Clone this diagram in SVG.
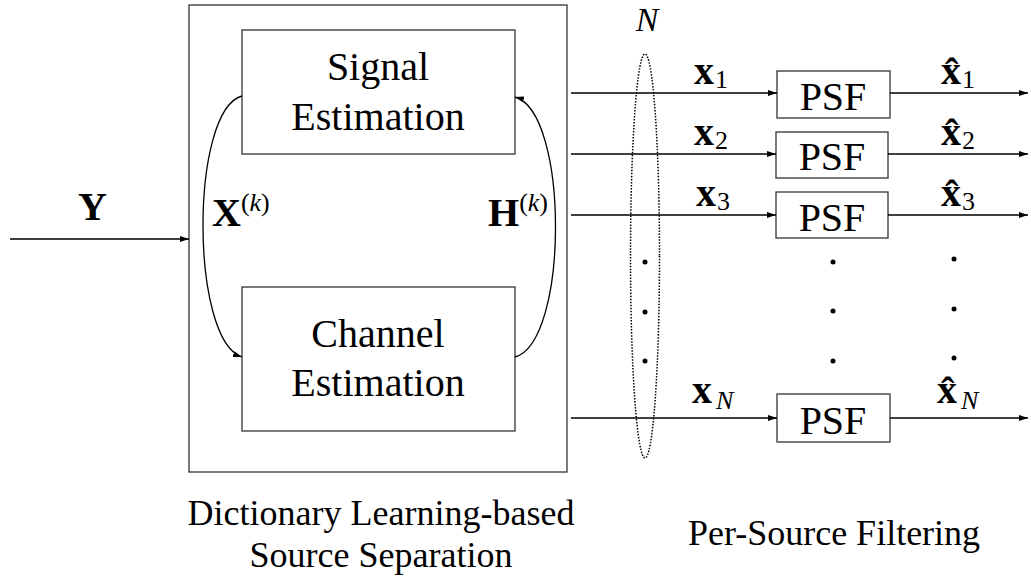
<svg xmlns="http://www.w3.org/2000/svg" width="1031" height="581" viewBox="0 0 1031 581">
<style>
.box{fill:#fff;stroke:#333;stroke-width:1.3}
.ln{fill:none;stroke:#000;stroke-width:1.3}
text{font-family:'Liberation Serif','DejaVu Serif',serif;fill:#000}
.big{font-size:40px}
.lab{font-size:36px}
.b{font-weight:bold}
.i{font-style:italic}
.sub{font-size:26px;font-weight:normal}
.dot{fill:#000}
</style>
<defs>
<marker id="ah" markerWidth="10" markerHeight="8" refX="9" refY="4" orient="auto" markerUnits="userSpaceOnUse">
<path d="M0,1 L9,4 L0,7 Z" fill="#000"/>
</marker>
</defs>
<g id="dlss">
<rect class="box" x="189" y="5" width="378" height="467"/>
<text class="lab" x="381" y="525" text-anchor="middle">Dictionary Learning-based</text>
<text class="lab" x="381" y="567" text-anchor="middle">Source Separation</text>
</g>
<g id="signal">
<rect class="box" x="242" y="30" width="273" height="124"/>
<text class="big" x="378" y="80" text-anchor="middle">Signal</text>
<text class="big" x="378" y="130" text-anchor="middle">Estimation</text>
</g>
<g id="channel">
<rect class="box" x="242" y="287" width="273" height="144"/>
<text class="big" x="378" y="347" text-anchor="middle">Channel</text>
<text class="big" x="378" y="396" text-anchor="middle">Estimation</text>
</g>
<g id="psf1"><rect class="box" x="777" y="71" width="113" height="47"/><text class="big" x="833" y="110" text-anchor="middle">PSF</text></g>
<g id="psf2"><rect class="box" x="776" y="132" width="112" height="46"/><text class="big" x="832" y="170" text-anchor="middle">PSF</text></g>
<g id="psf3"><rect class="box" x="776" y="192" width="112" height="46"/><text class="big" x="832" y="231" text-anchor="middle">PSF</text></g>
<g id="psfN"><rect class="box" x="777" y="394" width="113" height="48"/><text class="big" x="833" y="434" text-anchor="middle">PSF</text></g>
<g id="connectors">
<line class="ln" x1="10" y1="239" x2="189" y2="239" marker-end="url(#ah)"/>
<path class="ln" d="M242,96 C190,110 190,340 242,357" marker-end="url(#ah)"/>
<path class="ln" d="M515,357 C569,342 569,112 515,97" marker-end="url(#ah)"/>
<line class="ln" x1="571" y1="93" x2="777" y2="93" marker-end="url(#ah)"/>
<line class="ln" x1="571" y1="154" x2="776" y2="154" marker-end="url(#ah)"/>
<line class="ln" x1="571" y1="215" x2="776" y2="215" marker-end="url(#ah)"/>
<line class="ln" x1="571" y1="418" x2="777" y2="418" marker-end="url(#ah)"/>
<line class="ln" x1="890" y1="93" x2="1028" y2="93" marker-end="url(#ah)"/>
<line class="ln" x1="888" y1="154" x2="1028" y2="154" marker-end="url(#ah)"/>
<line class="ln" x1="888" y1="215" x2="1028" y2="215" marker-end="url(#ah)"/>
<line class="ln" x1="890" y1="418" x2="1028" y2="418" marker-end="url(#ah)"/>
</g>
<g id="group-ellipse">
<ellipse cx="645" cy="256" rx="14.5" ry="202" fill="none" stroke="#000" stroke-width="1.5" stroke-dasharray="1.5,1.5"/>
<text class="i" x="647" y="31" font-size="34" text-anchor="middle">N</text>
<circle class="dot" cx="645" cy="262" r="2.5"/>
<circle class="dot" cx="645" cy="312" r="2.5"/>
<circle class="dot" cx="645" cy="361" r="2.5"/>
</g>
<g id="labels">
<text class="big b" x="78" y="220">Y</text>
<text class="big b" x="212" y="226">X<tspan class="sub" dy="-15">(</tspan><tspan class="sub i">k</tspan><tspan class="sub">)</tspan></text>
<text class="big b" x="488" y="226">H<tspan class="sub" dy="-15">(</tspan><tspan class="sub i">k</tspan><tspan class="sub">)</tspan></text>
<text class="big b" x="694" y="84">x<tspan class="sub" dy="4" dx="1">1</tspan></text>
<text class="big b" x="694" y="145">x<tspan class="sub" dy="4" dx="1">2</tspan></text>
<text class="big b" x="696" y="206">x<tspan class="sub" dy="4" dx="1">3</tspan></text>
<text class="big b" x="692" y="403">x<tspan class="sub i" dy="6" dx="4">N</tspan></text>
<text class="big b" x="941" y="84">x̂<tspan class="sub" dy="4" dx="1">1</tspan></text>
<text class="big b" x="941" y="145">x̂<tspan class="sub" dy="4" dx="1">2</tspan></text>
<text class="big b" x="941" y="206">x̂<tspan class="sub" dy="4" dx="1">3</tspan></text>
<text class="big b" x="937" y="403">x̂<tspan class="sub i" dy="6" dx="4">N</tspan></text>
<circle class="dot" cx="833" cy="262" r="2.5"/>
<circle class="dot" cx="833" cy="311" r="2.5"/>
<circle class="dot" cx="833" cy="361" r="2.5"/>
<circle class="dot" cx="954" cy="259" r="2.5"/>
<circle class="dot" cx="954" cy="309" r="2.5"/>
<circle class="dot" cx="954" cy="358" r="2.5"/>
<text class="lab" x="834" y="545" text-anchor="middle">Per-Source Filtering</text>
</g>
</svg>
